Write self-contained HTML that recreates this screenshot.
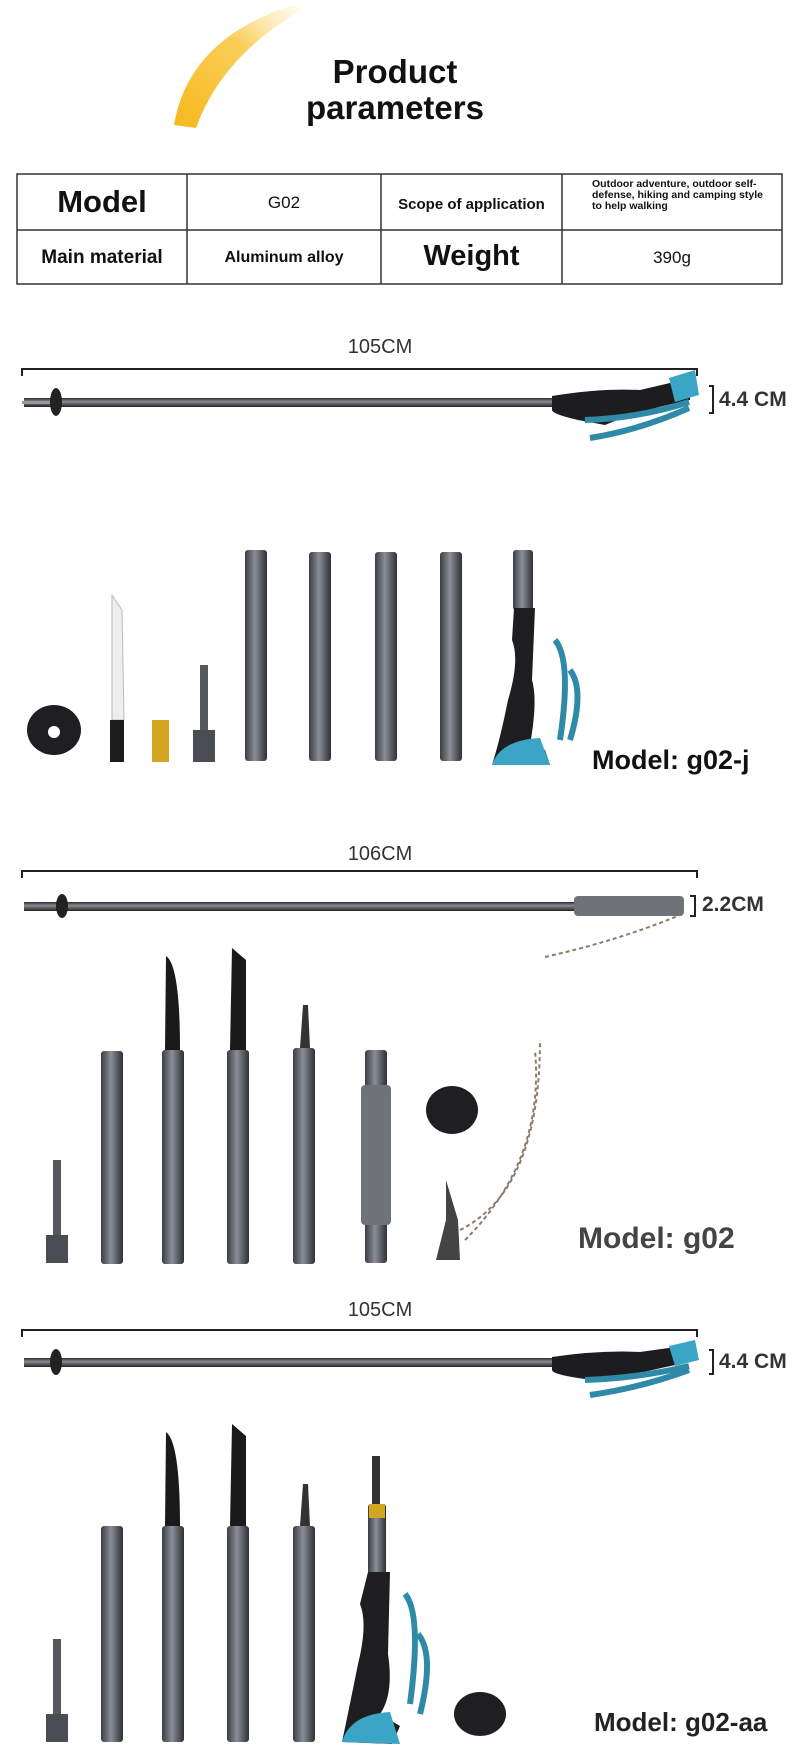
<!DOCTYPE html>
<html><head><meta charset="utf-8"><style>
body{margin:0;background:#fff;}
#c{position:relative;width:800px;height:1759px;overflow:hidden;font-family:"Liberation Sans","DejaVu Sans",sans-serif;}
.t{position:absolute;font-weight:bold;color:#111;white-space:nowrap;}
</style></head><body><div id="c">
<svg width="800" height="1759" style="position:absolute;left:0;top:0">
<defs>
<linearGradient id="yl" x1="0" y1="1" x2="1" y2="0"><stop offset="0" stop-color="#f6b81c"/><stop offset="0.6" stop-color="#f9cf5a"/><stop offset="1" stop-color="#fde7a0" stop-opacity="0.1"/></linearGradient>
<linearGradient id="tb" x1="0" y1="0" x2="1" y2="0"><stop offset="0" stop-color="#3a3d44"/><stop offset="0.45" stop-color="#8a8e96"/><stop offset="1" stop-color="#2e3036"/></linearGradient>
<linearGradient id="pl" x1="0" y1="0" x2="0" y2="1"><stop offset="0" stop-color="#2a2c31"/><stop offset="0.4" stop-color="#8a8d94"/><stop offset="1" stop-color="#222"/></linearGradient>
</defs>
<path d="M174 125 Q188 40 290 6 L305 8 Q222 55 196 128 Z" fill="url(#yl)"/>
<g stroke="#333" stroke-width="1.5" fill="none">
<rect x="17" y="174" width="765" height="110"/>
<line x1="17" y1="230" x2="782" y2="230"/>
<line x1="187" y1="174" x2="187" y2="284"/>
<line x1="381" y1="174" x2="381" y2="284"/>
<line x1="562" y1="174" x2="562" y2="284"/>
</g>
<path d="M22 376 V369 H697 V376" stroke="#222" stroke-width="2" fill="none"/>
<rect x="24" y="398" width="536" height="9" fill="url(#pl)"/>
<rect x="22" y="401" width="30" height="3" fill="#999"/>
<ellipse cx="56" cy="402" rx="6" ry="14" fill="#222"/>
<path d="M552 396 Q600 388 640 390 L670 383 L690 378 L690 400 Q640 410 605 425 L578 420 Q552 414 552 410 Z" fill="#1d1d1f"/>
<path d="M669 378 L695 370 L699 395 L675 402 Z" fill="#3aa5c4"/>
<path d="M585 420 Q640 418 689 402 M590 438 Q640 430 689 408" stroke="#2e8aa6" stroke-width="6" fill="none"/>
<path d="M709 386 H713 V413 H709" stroke="#222" stroke-width="2" fill="none"/>
<ellipse cx="54" cy="730" rx="27" ry="25" fill="#1f1f21"/><circle cx="54" cy="732" r="6" fill="#fff"/>
<path d="M112 595 L122 610 L124 720 L112 720 Z" fill="#eee" stroke="#bbb"/>
<rect x="110" y="720" width="14" height="42" fill="#1d1d1d"/>
<rect x="152" y="720" width="17" height="42" fill="#d4a521"/>
<rect x="200" y="665" width="8" height="70" fill="#55585e"/>
<rect x="193" y="730" width="22" height="32" fill="#4a4d53"/>
<g fill="url(#tb)">
<rect x="245" y="550" width="22" height="211" rx="3"/>
<rect x="309" y="552" width="22" height="209" rx="3"/>
<rect x="375" y="552" width="22" height="209" rx="3"/>
<rect x="440" y="552" width="22" height="209" rx="3"/>
<rect x="513" y="550" width="20" height="60" rx="3"/>
</g>
<path d="M514 608 L535 608 L532 680 Q538 700 530 745 L545 750 L550 765 L492 765 Q500 740 508 700 Q520 660 512 640 Z" fill="#1e1e20"/>
<path d="M492 765 Q500 740 540 738 L550 765 Z" fill="#3aa5c4"/>
<path d="M555 640 Q572 660 560 740 M570 670 Q585 690 570 740" stroke="#2e8aa6" stroke-width="6" fill="none"/>
<path d="M22 878 V871 H697 V878" stroke="#222" stroke-width="2" fill="none"/>
<rect x="24" y="902" width="660" height="9" fill="url(#pl)"/>
<ellipse cx="62" cy="906" rx="6" ry="12" fill="#222"/>
<rect x="574" y="896" width="110" height="20" rx="4" fill="#6f7277"/>
<path d="M545 957 Q620 940 680 915" stroke="#8a7d6a" stroke-width="2" stroke-dasharray="4 3" fill="none"/>
<path d="M690 896 H695 V916 H690" stroke="#222" stroke-width="2" fill="none"/>
<g transform="translate(0,10)">
<rect x="53" y="1150" width="8" height="80" fill="#55585e"/><rect x="46" y="1225" width="22" height="28" fill="#4a4d53"/>
<g fill="url(#tb)">
<rect x="101" y="1041" width="22" height="213" rx="3"/>
<rect x="162" y="1040" width="22" height="214" rx="3"/>
<rect x="227" y="1040" width="22" height="214" rx="3"/>
<rect x="293" y="1038" width="22" height="216" rx="3"/>
<rect x="365" y="1040" width="22" height="213" rx="3"/>
</g>
<path d="M165 1040 L166 946 Q180 955 180 1040 Z" fill="#1a1a1a"/>
<path d="M230 1040 L232 938 L246 950 L246 1040 Z" fill="#1a1a1a"/>
<path d="M300 1038 L303 995 L308 995 L310 1038 Z" fill="#333"/>
<rect x="361" y="1075" width="30" height="140" rx="4" fill="#6f7277"/>
<ellipse cx="452" cy="1100" rx="26" ry="24" fill="#1f1f21"/>
<path d="M446 1170 L446 1210 L436 1250 L460 1250 L458 1210 Z" fill="#444"/>
<path d="M460 1220 Q540 1180 540 1030 M465 1230 Q545 1150 535 1040" stroke="#8a7d6a" stroke-width="2" stroke-dasharray="4 3" fill="none"/>
</g>
<path d="M22 1337 V1330 H697 V1337" stroke="#222" stroke-width="2" fill="none"/>
<rect x="24" y="1358" width="536" height="9" fill="url(#pl)"/>
<ellipse cx="56" cy="1362" rx="6" ry="13" fill="#222"/>
<path d="M552 1357 Q600 1350 640 1352 L690 1345 L690 1362 Q640 1372 605 1382 L578 1378 Q552 1374 552 1370 Z" fill="#1d1d1f"/>
<path d="M669 1346 L695 1340 L699 1360 L675 1366 Z" fill="#3aa5c4"/>
<path d="M585 1380 Q640 1378 689 1366 M590 1395 Q640 1388 689 1370" stroke="#2e8aa6" stroke-width="6" fill="none"/>
<path d="M709 1350 H713 V1374 H709" stroke="#222" stroke-width="2" fill="none"/>
<g transform="translate(0,14)">
<rect x="53" y="1625" width="8" height="80" fill="#55585e"/><rect x="46" y="1700" width="22" height="28" fill="#4a4d53"/>
<g fill="url(#tb)">
<rect x="101" y="1512" width="22" height="216" rx="3"/>
<rect x="162" y="1512" width="22" height="216" rx="3"/>
<rect x="227" y="1512" width="22" height="216" rx="3"/>
<rect x="293" y="1512" width="22" height="216" rx="3"/>
<rect x="368" y="1490" width="18" height="70" rx="3"/>
</g>
<path d="M165 1512 L166 1418 Q180 1428 180 1512 Z" fill="#1a1a1a"/>
<path d="M230 1512 L232 1410 L246 1422 L246 1512 Z" fill="#1a1a1a"/>
<path d="M300 1512 L303 1470 L308 1470 L310 1512 Z" fill="#333"/>
<rect x="372" y="1442" width="8" height="50" fill="#333"/>
<rect x="369" y="1490" width="16" height="14" fill="#d4a521"/>
<path d="M368 1558 L390 1558 L388 1640 Q394 1680 380 1700 L400 1712 L392 1730 L342 1728 Q350 1690 358 1650 Q368 1610 360 1590 Z" fill="#1e1e20"/>
<path d="M342 1728 Q350 1700 390 1698 L400 1730 Z" fill="#3aa5c4"/>
<path d="M405 1580 Q422 1600 410 1690 M418 1620 Q435 1640 420 1700" stroke="#2e8aa6" stroke-width="6" fill="none"/>
<ellipse cx="480" cy="1700" rx="26" ry="22" fill="#1f1f21"/>
</g>
</svg>
<div class="t" style="left:245px;top:54px;width:300px;text-align:center;font-size:33px;line-height:36px;white-space:normal">Product<br>parameters</div>
<div class="t" style="left:17px;top:184px;width:170px;text-align:center;font-size:31px">Model</div>
<div class="t" style="left:187px;top:193px;width:194px;text-align:center;font-size:17px;font-weight:normal">G02</div>
<div class="t" style="left:381px;top:196px;width:181px;text-align:center;font-size:15px">Scope of application</div>
<div class="t" style="left:592px;top:179px;width:180px;font-size:10.5px;line-height:11px;white-space:normal">Outdoor adventure, outdoor self-defense, hiking and camping style to help walking</div>
<div class="t" style="left:17px;top:247px;width:170px;text-align:center;font-size:19px">Main material</div>
<div class="t" style="left:187px;top:249px;width:194px;text-align:center;font-size:16px">Aluminum alloy</div>
<div class="t" style="left:381px;top:240px;width:181px;text-align:center;font-size:29px">Weight</div>
<div class="t" style="left:562px;top:248px;width:220px;text-align:center;font-size:17px;font-weight:normal">390g</div>
<div class="t" style="left:300px;top:336px;width:160px;text-align:center;font-size:20px;color:#333;font-weight:normal">105CM</div>
<div class="t" style="left:719px;top:388px;font-size:21px;color:#333">4.4 CM</div>
<div class="t" style="left:592px;top:745px;font-size:27px">Model: g02-j</div>
<div class="t" style="left:300px;top:843px;width:160px;text-align:center;font-size:20px;color:#333;font-weight:normal">106CM</div>
<div class="t" style="left:702px;top:893px;font-size:21px;color:#333">2.2CM</div>
<div class="t" style="left:578px;top:1222px;font-size:30px;color:#444">Model: g02</div>
<div class="t" style="left:300px;top:1299px;width:160px;text-align:center;font-size:20px;color:#333;font-weight:normal">105CM</div>
<div class="t" style="left:719px;top:1350px;font-size:21px;color:#333">4.4 CM</div>
<div class="t" style="left:594px;top:1707px;font-size:26px;color:#222">Model: g02-aa</div>
</div></body></html>
